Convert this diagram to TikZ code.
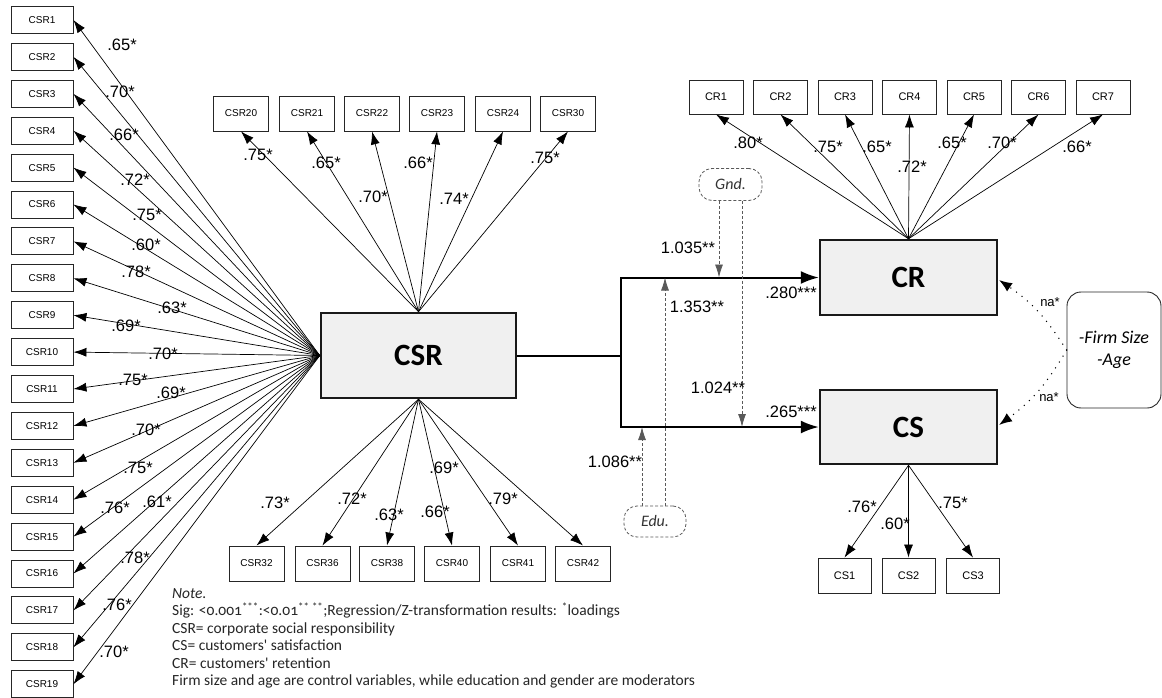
\documentclass[tikz,border=0pt]{standalone}
\usepackage{fontspec}
\setmainfont{Liberation Sans}
\newfontfamily\carlfont{Carlito}[Numbers=OldStyle]
\newfontfamily\carlbold{Carlito}
\usetikzlibrary{arrows.meta}
\begin{document}
\begin{tikzpicture}[x=1pt,y=-1pt,
  ind/.style={draw=black!85, line width=0.9pt, minimum width=62pt, minimum height=27pt, inner sep=0pt, font=\fontsize{10}{11}\selectfont},
  tb/.style={ind, minimum width=55pt, minimum height=35pt},
  crb/.style={ind, minimum width=54pt, minimum height=34pt, font=\fontsize{11}{12}\selectfont},
  lat/.style={draw=black!90, line width=2.5pt, fill=black!6, inner sep=0pt, font=\carlbold\bfseries\fontsize{31}{32}\selectfont},
  load/.style={-{Latex[length=13pt,width=9pt]}, line width=0.7pt},
  lbl/.style={font=\fontsize{16.5}{17}\selectfont, inner sep=0pt},
  mainln/.style={line width=2pt},
  mainarr/.style={mainln, -{Latex[length=18pt,width=13pt]}},
  mod/.style={draw=black!65, line width=0.8pt, dash pattern=on 3pt off 2pt},
  modarr/.style={mod, -{Latex[length=13pt,width=8pt]}},
  modbox/.style={draw=black!65, line width=0.8pt, dash pattern=on 3pt off 2pt, rounded corners=13pt, minimum width=63pt, minimum height=32pt, inner sep=0pt, font=\carlfont\itshape\fontsize{16}{16}\selectfont, text=black!80},
  ctl/.style={line width=1.5pt, dash pattern=on 0pt off 7pt, line cap=round, -{Latex[length=13pt,width=10pt]}},
  na/.style={font=\fontsize{13}{14}\selectfont, inner sep=0pt}
]
\useasboundingbox (0,0) rectangle (1162,698);

% main latent nodes
\node[lat, minimum width=195pt, minimum height=85pt] (csr) at (418.5,355.5) {CSR};
\node[lat, minimum width=177pt, minimum height=75pt] (cr) at (908.5,277.5) {CR};
\node[lat, minimum width=177pt, minimum height=74pt] (cs) at (908.5,427) {CS};

% left indicators
\foreach \i in {1,...,19} {
  \node[ind] (l\i) at (42,{20+(\i-1)*36.9}) {CSR\i};
  \draw[load] (csr.west) -- (l\i.east);
}
\foreach \i/\x/\y/\t in {1/122/45/.65*,2/120/92/.70*,3/124/135/.66*,4/135/180/.72*,5/147/215/.75*,6/146/245/.60*,7/136/272/.78*,8/172/308/.63*,9/126/326/.69*,10/163/354/.70*,11/133/380/.75*,12/171/393/.69*,13/146/430/.70*,14/138/468/.75*,15/115/508/.76*,16/157/502/.61*,17/135/558/.78*,18/117/605/.76*,19/114/652/.70*}
  \node[lbl] (ll\i) at (\x,\y) {\t};

% top indicators
\foreach \n/\x/\lx/\ly/\t in {20/241/258/155/.75*,21/307/326/163/.65*,22/372/373/197/.70*,23/437/418/163/.66*,24/503/454/199/.74*,30/568/545/158/.75*} {
  \node[tb] (t\n) at (\x,113.5) {CSR\n};
  \draw[load] (csr.north) -- (t\n.south);
  \node[lbl] (tl\n) at (\lx,\ly) {\t};
}

% bottom indicators
\foreach \n/\x/\lx/\ly/\t in {32/256.5/275/503/.73*,36/322.5/352/499/.72*,38/387/389/515/.63*,40/452/435/512/.66*,41/518/503/499/.79*,42/583/444/468/.69*} {
  \node[tb] (b\n) at (\x,563.5) {CSR\n};
  \draw[load] (csr.south) -- (b\n.north);
  \node[lbl] (bl\n) at (\lx,\ly) {\t};
}

% CR indicators
\foreach \n/\x/\lx/\ly/\t in {1/716/748/143/.80*,2/780.5/828/147/.75*,3/845/877/147/.65*,4/909.5/912/167/.72*,5/974/952/143/.65*,6/1038.5/1002/143/.70*,7/1103/1077/147/.66*} {
  \node[crb] (cr\n) at (\x,97) {CR\n};
  \draw[load] (cr.north) -- (cr\n.south);
  \node[lbl] (crl\n) at (\lx,\ly) {\t};
}

% CS indicators
\foreach \n/\x/\lx/\ly/\t in {1/844.5/862/507/.76*,2/908.5/895/524/.60*,3/973/953/503/.75*} {
  \node[crb, minimum width=53pt, minimum height=35pt] (cs\n) at (\x,575.5) {CS\n};
  \draw[load] (cs.south) -- (cs\n.north);
  \node[lbl] (csl\n) at (\lx,\ly) {\t};
}

% structural paths
\coordinate (j) at (621,355.5);
\draw[mainln] (csr.east) -- (j);
\draw[mainarr] (j) |- (cr.west);
\draw[mainarr] (j) |- (cs.west);
\node[lbl] (p1) at (791,293) {.280***};
\node[lbl] (p2) at (791,411.5) {.265***};

% moderators
\node[modbox] (gnd) at (730.5,184.5) {Gnd.};
\node[modbox, minimum width=62pt, minimum height=31pt] (edu) at (655,521.5) {Edu.};
\coordinate (g1) at (719,277.5);
\coordinate (g2) at (742,427);
\coordinate (e1) at (642,427);
\coordinate (e2) at (665,277.5);
\draw[modarr] (gnd.south -| g1) -- (g1);
\draw[modarr] (gnd.south -| g2) -- (g2);
\draw[modarr] (edu.north -| e1) -- (e1);
\draw[modarr] (edu.north -| e2) -- (e2);
\node[lbl] (m1) at (688,248) {1.035**};
\node[lbl] (m2) at (718,388) {1.024**};
\node[lbl] (m3) at (615,462) {1.086**};
\node[lbl] (m4) at (697,307) {1.353**};

% controls
\node[draw=black!85, line width=0.9pt, rounded corners=14pt, minimum width=94pt, minimum height=116pt, inner sep=0pt, align=center, font=\carlfont\itshape\fontsize{18}{22.5}\selectfont] (firm) at (1114,350) {-Firm Size\\-Age};
\coordinate (c1) at (999,280);
\coordinate (c2) at (999,425);
\draw[ctl] (firm.west) to[bend right=12] (c1);
\draw[ctl] (firm.west) to[bend left=12] (c2);
\node[na] (na1) at (1050,302) {na*};
\node[na] (na2) at (1049,397) {na*};

% note
\node[anchor=north west, inner sep=0pt, align=left, font=\carlfont\fontsize{15.5}{17.5}\selectfont, text=black!85] (note) at (172,588) {\textit{Note.}\\
Sig: <0.001\textsuperscript{***}:<0.01\textsuperscript{**}\,\textsuperscript{**};Regression/Z-transformation results: \textsuperscript{*}loadings\\
CSR= corporate social responsibility\\
CS= customers' satisfaction\\
CR= customers' retention\\
Firm size and age are control variables, while education and gender are moderators};
\end{tikzpicture}
\end{document}
